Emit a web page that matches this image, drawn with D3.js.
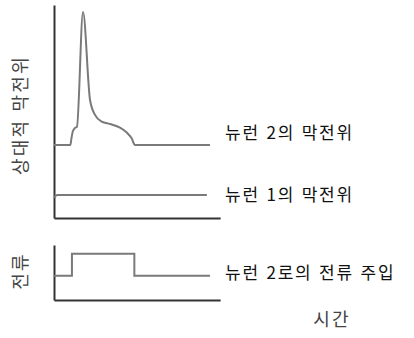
<!DOCTYPE html>
<html lang="ko">
<head>
<meta charset="UTF-8">
<title>뉴런 막전위</title>
<script src="https://d3js.org/d3.v7.min.js"></script>
<style>
  body { margin: 0; background: #fff; }
  .axis path { stroke: #333; stroke-width: 2; }
  .trace { fill: none; stroke: #7a7a7a; stroke-width: 2; }
  .lbl { font-family: "Noto Sans CJK KR", sans-serif; fill: #111; font-size: 17px; letter-spacing: 1.8px; }
  .ylbl { font-family: "Noto Sans CJK KR", sans-serif; fill: #444; font-size: 18px; letter-spacing: 2.2px; }
</style>
</head>
<body>
<div id="chart"></div>
<script>
// time (arbitrary units, 0..100) and relative values
const n2Time = [0, 10.5, 11.2, 12, 13.5, 14.7, 18.6, 23.1, 26.3, 30.6, 35.9, 42.3, 46.8, 49.8, 51.9, 100];
const n2Vals = [34.3, 34.3, 37.5, 40.5, 42.3, 42.8, 96.7, 55.4, 48.4, 45.2, 44.1, 42.4, 40, 37.4, 34.3, 34.3];
const n1Time = [0, 2, 98];
const n1Vals = [9.8, 10.8, 10.8];
const curTime = [0, 11.5, 11.5, 51.5, 51.5, 100];
const curVals = [0.44, 0.44, 0.84, 0.84, 0.44, 0.44];
const labels = ["뉴런 2의 막전위", "뉴런 1의 막전위", "뉴런 2로의 전류 주입"];
const xTitle = "시간";
const yTitleTop = "상대적 막전위";
const yTitleBottom = "전류";

const W = 414, H = 338;
const svg = d3.select("#chart").append("svg").attr("width", W).attr("height", H);

const x = d3.scaleLinear().domain([0, 100]).range([54, 210]);
const xAxisEnd = 106.5;
const yTop = d3.scaleLinear().domain([0, 100]).range([218, 5]);
const yBot = d3.scaleLinear().domain([0, 1]).range([300, 245]);

// axes (domain lines only)
const xa = d3.scaleLinear().domain([0, xAxisEnd]).range([x(0), x(xAxisEnd)]);
svg.append("g").attr("class", "axis").attr("transform", `translate(0,${yTop(0)})`)
  .call(d3.axisBottom(xa).ticks(0).tickSizeOuter(0));
svg.append("g").attr("class", "axis").attr("transform", `translate(${x(0)},0)`)
  .call(d3.axisLeft(yTop).ticks(0).tickSizeOuter(0));
svg.append("g").attr("class", "axis").attr("transform", `translate(0,${yBot(0)})`)
  .call(d3.axisBottom(xa).ticks(0).tickSizeOuter(0));
svg.append("g").attr("class", "axis").attr("transform", `translate(${x(0)},0)`)
  .call(d3.axisLeft(yBot).ticks(0).tickSizeOuter(0));

const lineTop = d3.line().x(d => x(d[0])).y(d => yTop(d[1])).curve(d3.curveMonotoneX);
const lineTopLin = d3.line().x(d => x(d[0])).y(d => yTop(d[1]));
const lineBot = d3.line().x(d => x(d[0])).y(d => yBot(d[1]));

svg.append("path").attr("class", "trace")
  .attr("d", lineTop(d3.zip(n2Time, n2Vals)));
svg.append("path").attr("class", "trace")
  .attr("d", lineTopLin(d3.zip(n1Time, n1Vals)));
svg.append("path").attr("class", "trace")
  .attr("d", lineBot(d3.zip(curTime, curVals)));

// trace labels
const labelY = [yTop(n2Vals[n2Vals.length - 1]) - 12, yTop(n1Vals[n1Vals.length - 1]), yBot(curVals[curVals.length - 1]) - 3];
svg.selectAll(".lbl").data(labels).enter().append("text")
  .attr("class", "lbl")
  .attr("x", 225)
  .attr("y", (d, i) => labelY[i])
  .attr("dy", "0.35em")
  .text(d => d);

svg.append("text").attr("class", "ylbl")
  .attr("x", 332).attr("y", 320).attr("dy", "0.35em")
  .attr("text-anchor", "middle").text(xTitle);

svg.append("text").attr("class", "ylbl")
  .attr("transform", "translate(21,115) rotate(-90)")
  .attr("dy", "0.35em").attr("text-anchor", "middle").text(yTitleTop);

svg.append("text").attr("class", "ylbl")
  .attr("transform", "translate(21,271) rotate(-90)")
  .attr("dy", "0.35em").attr("text-anchor", "middle").text(yTitleBottom);
</script>
</body>
</html>
